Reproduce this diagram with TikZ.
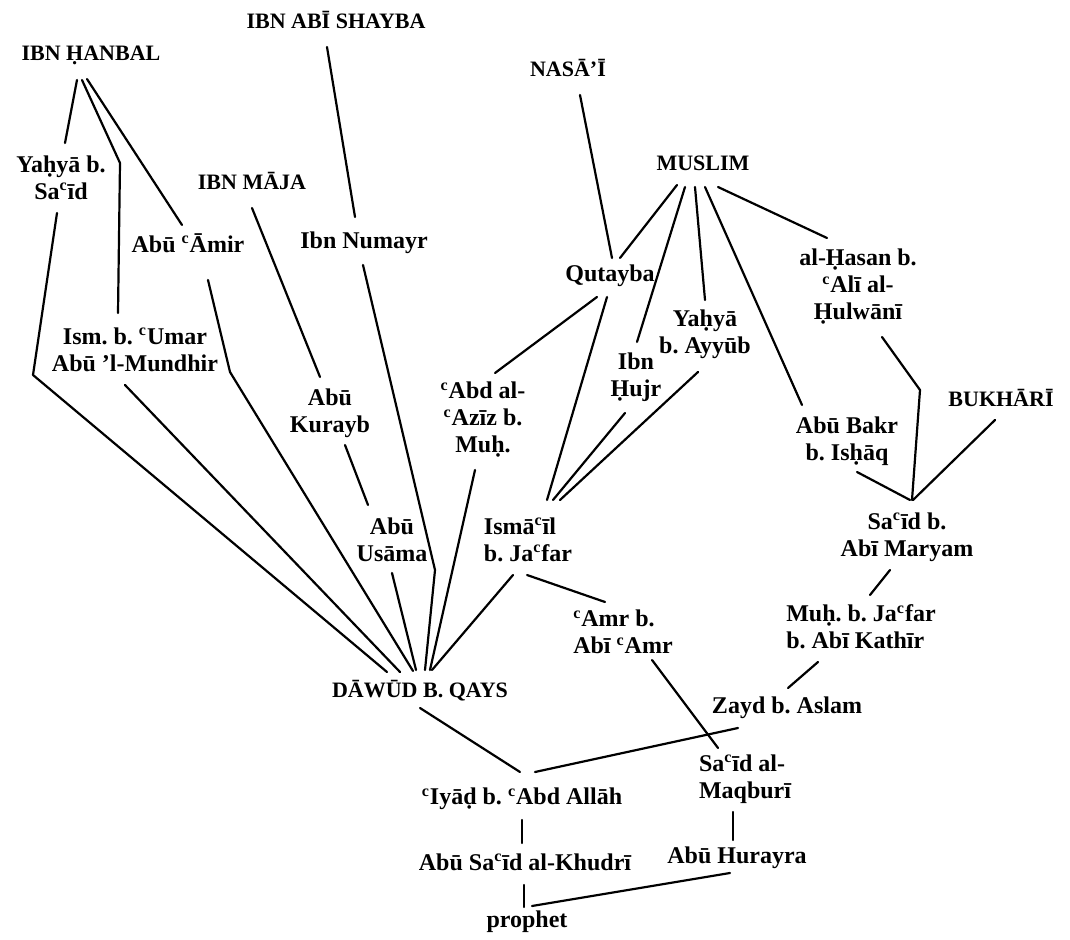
\documentclass[tikz,border=0pt]{standalone}
\usepackage{fontspec}
\setmainfont{Liberation Serif}
\usetikzlibrary{calc}
\frenchspacing
\newcommand{\ayn}{\textsuperscript{c}}
\tikzstyle{collector}=[
  font=\bfseries\fontsize{11}{12}\selectfont,
  inner sep=1pt
]
\tikzstyle{narrator}=[
  font=\bfseries\fontsize{12}{13.5}\selectfont,
  inner sep=1pt,
  align=center
]
\tikzstyle{link}=[
  line width=1.1pt,
  line cap=round,
  line join=round
]

\begin{document}
\begin{tikzpicture}[x=0.5pt, y=-0.5pt]
  \useasboundingbox (0,0) rectangle (1070,940);

  % collectors
  \node[collector] (hanbal)  at (91,   55) {IBN ḤANBAL};
  \node[collector] (shayba)  at (336,  20) {IBN ABĪ SHAYBA};
  \node[collector] (nasai)   at (568,  68) {NASĀ’Ī};
  \node[collector] (muslim)  at (703, 163) {MUSLIM};
  \node[collector] (maja)    at (252, 181) {IBN MĀJA};
  \node[collector] (bukhari) at (1001,398) {BUKHĀRĪ};
  \node[collector] (dawud)   at (420, 691) {DĀWŪD B. QAYS};

  % transmitters
  \node[narrator] (yahyasaid) at (61,  178) {Yaḥyā b.\\Sa\ayn īd};
  \node[narrator] (amir)      at (188, 243) {Abū \ayn Āmir};
  \node[narrator] (numayr)    at (364, 243) {Ibn Numayr};
  \node[narrator] (qutayba)   at (610, 276) {Qutayba};
  \node[narrator] (hasan)     at (858, 287) {al-Ḥasan b.\\\ayn Alī al-\\Ḥulwānī};
  \node[narrator] (umar)      at (135, 350) {Ism. b. \ayn Umar\\Abū ’l-Mundhir};
  \node[narrator] (kurayb)    at (330, 413) {Abū\\Kurayb};
  \node[narrator] (hujr)      at (636, 377) {Ibn\\Ḥujr};
  \node[narrator] (ayyub)     at (705, 334) {Yaḥyā\\b. Ayyūb};
  \node[narrator] (bakr)      at (847, 441) {Abū Bakr\\b. Isḥāq};
  \node[narrator] (aziz)      at (483, 420) {\ayn Abd al-\\\ayn Azīz b.\\Muḥ.};
  \node[narrator] (usama)     at (392, 540) {Abū\\Usāma};
  \node[narrator, align=left] (ismail) at (528, 540) {Ismā\ayn īl\\b. Ja\ayn far};
  \node[narrator] (maryam)    at (907, 537) {Sa\ayn īd b.\\Abī Maryam};
  \node[narrator, align=left] (amr)    at (623, 632) {\ayn Amr b.\\Abī \ayn Amr};
  \node[narrator, align=left] (jafar)  at (861, 627) {Muḥ. b. Ja\ayn far\\b. Abī Kathīr};
  \node[narrator] (zayd)      at (787, 708) {Zayd b. Aslam};
  \node[narrator, align=left] (maqburi) at (745, 779) {Sa\ayn īd al-\\Maqburī};
  \node[narrator] (iyad)      at (522, 799) {\ayn Iyāḍ b. \ayn Abd Allāh};
  \node[narrator] (khudri)    at (525, 862) {Abū Sa\ayn īd al-Khudrī};
  \node[narrator] (hurayra)   at (737, 858) {Abū Hurayra};
  \node[narrator] (prophet)   at (527, 922) {prophet};

  % Ibn Hanbal
  \draw[link] ($(hanbal)+(-14,25)$) -- ($(yahyasaid)+(4,-35)$);
  \draw[link] ($(hanbal)+(-9,25)$) -- ++(38,83) -- ($(umar)+(-17,-37)$);
  \draw[link] ($(hanbal)+(-4,24)$) -- ($(amir)+(-6,-18)$);
  \draw[link] ($(yahyasaid)+(-4,35)$) -- ++(-24,162) -- ($(dawud)+(-33,-19)$);
  \draw[link] ($(umar)+(-10,35)$) -- ($(dawud)+(-20,-19)$);
  \draw[link] ($(amir)+(20,37)$) -- ++(22,92) -- ($(dawud)+(-7,-20)$);

  % Ibn Maja, Ibn Abi Shayba
  \draw[link] ($(maja)+(0,27)$) -- ($(kurayb)+(-10,-36)$);
  \draw[link] ($(kurayb)+(15,32)$) -- ($(usama)+(-24,-35)$);
  \draw[link] ($(usama)+(0,33)$) -- ($(dawud)+(-4,-21)$);
  \draw[link] ($(shayba)+(-9,27)$) -- ($(numayr)+(-9,-26)$);
  \draw[link] ($(numayr)+(-1,22)$) -- ++(72,305) -- ($(dawud)+(5,-21)$);

  % Muslim, Nasa'i
  \draw[link] ($(muslim)+(-26,22)$) -- ($(qutayba)+(10,-18)$);
  \draw[link] ($(muslim)+(-18,24)$) -- ($(hujr)+(1,-35)$);
  \draw[link] ($(muslim)+(-8,24)$) -- ($(ayyub)+(0,-34)$);
  \draw[link] ($(muslim)+(2,24)$) -- ($(bakr)+(-45,-36)$);
  \draw[link] ($(muslim)+(15,24)$) -- ($(hasan)+(-31,-49)$);
  \draw[link] ($(nasai)+(12,27)$) -- ($(qutayba)+(2,-18)$);
  \draw[link] ($(qutayba)+(-13,21)$) -- ($(aziz)+(12,-47)$);
  \draw[link] ($(qutayba)+(-3,21)$) -- ($(ismail)+(19,-40)$);
  \draw[link] ($(hujr)+(-11,36)$) -- ($(ismail)+(25,-40)$);
  \draw[link] ($(ayyub)+(-7,38)$) -- ($(ismail)+(32,-40)$);
  \draw[link] ($(aziz)+(-8,50)$) -- ($(dawud)+(10,-21)$);
  \draw[link] ($(ismail)+(-15,35)$) -- ($(dawud)+(12,-21)$);
  \draw[link] ($(ismail)+(-1,35)$) -- ($(amr)+(-18,-30)$);

  % Bukhari
  \draw[link] ($(bakr)+(10,31)$) -- ($(maryam)+(3,-37)$);
  \draw[link] ($(hasan)+(24,50)$) -- ++(38,53) -- ($(maryam)+(5,-37)$);
  \draw[link] ($(bukhari)+(-6,22)$) -- ($(maryam)+(6,-37)$);
  \draw[link] ($(maryam)+(-17,33)$) -- ($(jafar)+(9,-32)$);
  \draw[link] ($(jafar)+(-43,35)$) -- ($(zayd)+(1,-20)$);

  % lower part
  \draw[link] ($(dawud)+(0,17)$) -- ($(iyad)+(-2,-27)$);
  \draw[link] ($(zayd)+(-49,20)$) -- ($(iyad)+(13,-27)$);
  \draw[link] ($(amr)+(29,28)$) -- ($(maqburi)+(-27,-31)$);
  \draw[link] ($(iyad)+(0,21)$) -- ($(khudri)+(-3,-19)$);
  \draw[link] ($(maqburi)+(-12,33)$) -- ($(hurayra)+(-4,-18)$);
  \draw[link] ($(khudri)+(-1,23)$) -- ($(prophet)+(-3,-15)$);
  \draw[link] ($(hurayra)+(-7,15)$) -- ($(prophet)+(5,-16)$);
\end{tikzpicture}
\end{document}
